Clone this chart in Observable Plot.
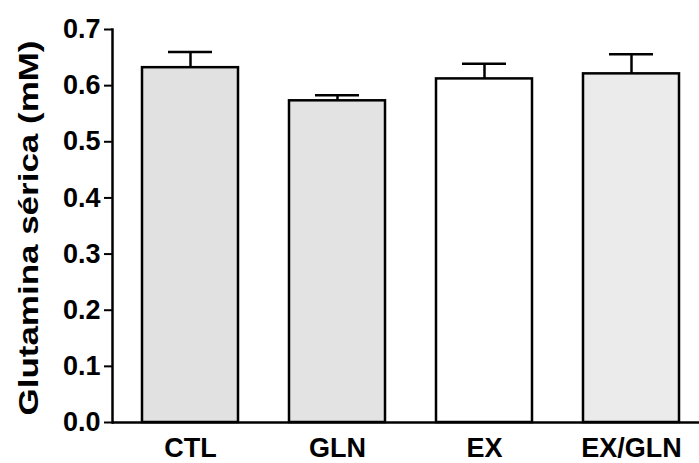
<!DOCTYPE html>
<html>
<head>
<meta charset="utf-8">
<script src="https://cdn.jsdelivr.net/npm/d3@7"></script>
<script src="https://cdn.jsdelivr.net/npm/@observablehq/plot@0.6"></script>
<style>
  html, body { margin: 0; padding: 0; background: #fff; }
  svg { display: block; }
</style>
</head>
<body>
<div id="chart"></div>
<script>
const groups = ["CTL", "GLN", "EX", "EX/GLN"];
const means = [0.632, 0.573, 0.612, 0.621];
const upper = [0.660, 0.583, 0.639, 0.656];
const fills = ["#e1e1e1", "#e3e3e3", "#ffffff", "#ebebeb"];
const yTicks = [0, 0.1, 0.2, 0.3, 0.4, 0.5, 0.6, 0.7];
const yLabel = "Glutamina sérica (mM)";

const data = groups.map((g, i) => ({group: g, mean: means[i], upper: upper[i], fill: fills[i]}));

const font = "Liberation Sans, Arial, sans-serif";

const chart = Plot.plot({
  width: 699,
  height: 463,
  marginLeft: 112,
  marginRight: 0,
  marginTop: 29,
  marginBottom: 41,
  style: {fontFamily: font, fontSize: "27px", fontWeight: "bold", color: "#000", background: "#fff"},
  x: {domain: groups, paddingInner: 0.345, paddingOuter: 0.156, align: 0.6},
  y: {domain: [0, 0.7]},
  marks: [
    Plot.ruleX(data, {x: "group", y1: "mean", y2: "upper", stroke: "#000", strokeWidth: 2.5}),
    Plot.tickY(data, {x: "group", y: "upper", stroke: "#000", strokeWidth: 2.5, insetLeft: 26, insetRight: 26}),
    Plot.barY(data, {x: "group", y: "mean", fill: "fill", stroke: "#000", strokeWidth: 2.5}),
    Plot.ruleY([0], {stroke: "#000", strokeWidth: 2.5}),
    Plot.frame({anchor: "left", stroke: "#000", strokeWidth: 2.5}),
    Plot.axisY({ticks: yTicks, tickFormat: d3.format(".1f"), tickSize: 8, tickPadding: 4, strokeWidth: 2, label: null, fontSize: 27}),
    Plot.axisX({tickSize: 0, tickPadding: 15, label: null, fontSize: 27}),
    Plot.text([yLabel], {frameAnchor: "left", textAnchor: "middle", dx: -83, dy: 2, rotate: -90, text: d => d, fontSize: 27, fontWeight: "bold", className: "ylab"})
  ]
});
document.getElementById("chart").append(chart);
chart.querySelectorAll(".ylab text").forEach(t => {
  t.setAttribute("textLength", "375");
  t.setAttribute("lengthAdjust", "spacingAndGlyphs");
});
</script>
</body>
</html>
